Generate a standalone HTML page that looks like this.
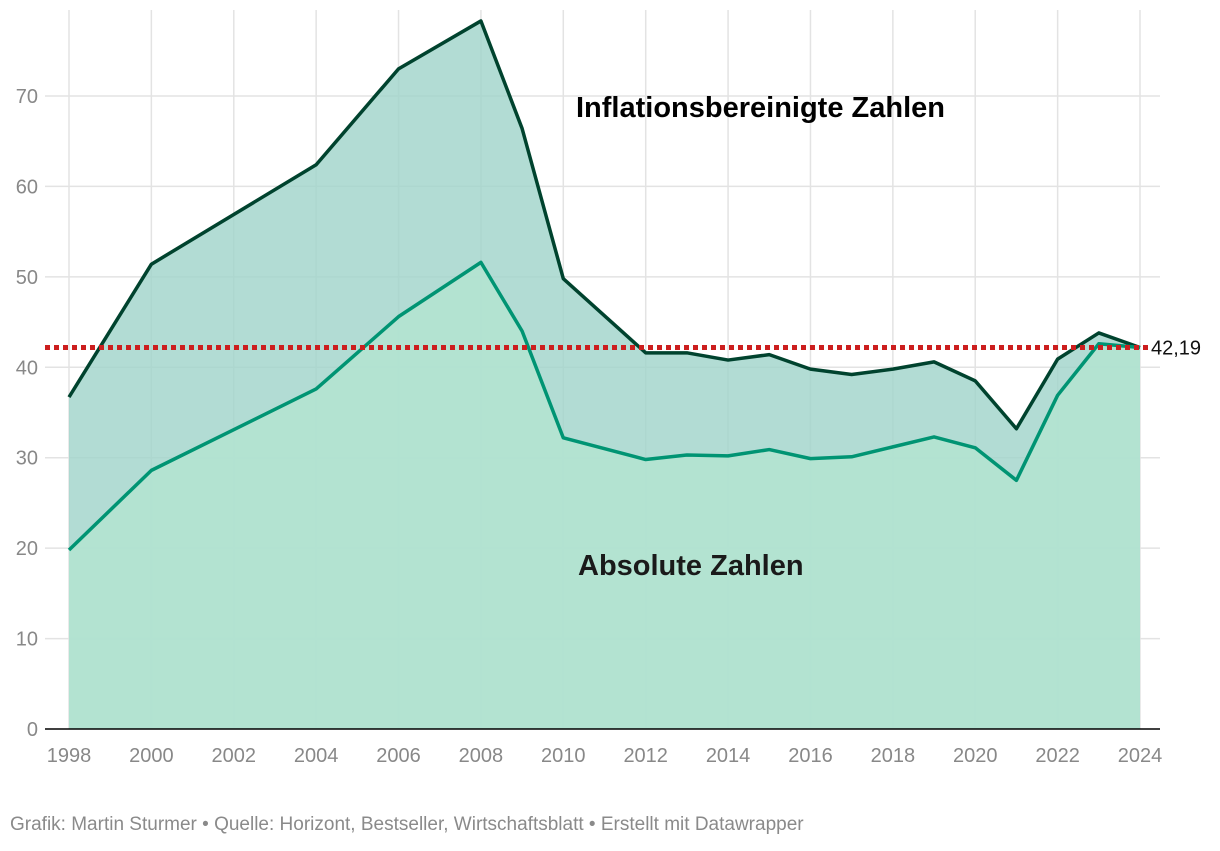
<!DOCTYPE html>
<html><head><meta charset="utf-8"><style>
body{margin:0;background:#fff;font-family:"Liberation Sans",sans-serif;}
svg text{font-family:"Liberation Sans",sans-serif;}
</style></head><body>
<svg id="chart" width="1220" height="846" xmlns="http://www.w3.org/2000/svg">
<g id="grid"></g>
<g id="areas"></g>
<g id="lines"></g>
<g id="axes"></g>
<text x="576" y="117" font-size="29" font-weight="bold" fill="#000">Inflationsbereinigte Zahlen</text>
<text x="578" y="575" font-size="29" font-weight="bold" fill="#1a1a1a">Absolute Zahlen</text>
<text x="10" y="830" font-size="19" fill="#8a8a8a">Grafik: Martin Sturmer • Quelle: Horizont, Bestseller, Wirtschaftsblatt • Erstellt mit Datawrapper</text>
</svg>
<script>
const years=[1998,2000,2004,2006,2008,2009,2010,2012,2013,2014,2015,2016,2017,2018,2019,2020,2021,2022,2023,2024];
const realValues=[36.7,51.4,62.4,73.0,78.3,66.4,49.8,41.6,41.6,40.8,41.4,39.8,39.2,39.8,40.6,38.5,33.2,40.9,43.8,42.19];
const absValues=[19.8,28.6,37.6,45.6,51.6,44.0,32.2,29.8,30.3,30.2,30.9,29.9,30.1,31.2,32.3,31.1,27.5,36.9,42.6,42.19];
const yTicks=[0,10,20,30,40,50,60,70];
const xTicks=[1998,2000,2002,2004,2006,2008,2010,2012,2014,2016,2018,2020,2022,2024];
const refValue=42.19;
const refLabel="42,19";

const NS="http://www.w3.org/2000/svg";
const X=y=>69+(y-1998)*(1140-69)/26;
const Y=v=>729-v*(729-96)/70;
function mk(tag,attrs,parent){const e=document.createElementNS(NS,tag);for(const k in attrs)e.setAttribute(k,attrs[k]);parent.appendChild(e);return e;}
const grid=document.getElementById('grid'),areas=document.getElementById('areas'),lines=document.getElementById('lines'),axes=document.getElementById('axes');
yTicks.forEach(t=>{
 if(t>0){const l=mk('line',{x1:45,x2:1160,y1:Y(t),y2:Y(t),stroke:'#e3e3e3','stroke-width':1.5},grid);
 
 }
 const tx=mk('text',{x:38,y:Y(t)+7,'font-size':20,fill:'#888','text-anchor':'end'},axes);tx.textContent=t;
 
 
});
xTicks.forEach(t=>{
 const l=mk('line',{x1:X(t),x2:X(t),y1:10,y2:729,stroke:'#e3e3e3','stroke-width':1.5},grid);
 
 
 const tx=mk('text',{x:X(t),y:762,'font-size':20,fill:'#888','text-anchor':'middle'},axes);tx.textContent=t;
 
 
});
function pts(vals){return years.map((y,i)=>X(y)+','+Y(vals[i])).join(' ');}
const base=X(years[years.length-1])+','+Y(0)+' '+X(years[0])+','+Y(0);
const a1=mk('polygon',{points:pts(realValues)+' '+base,fill:'#9fd3c9','fill-opacity':0.8},areas);


const a2=mk('polygon',{points:pts(absValues)+' '+base,fill:'#b3e3d0','fill-opacity':0.9},areas);


const ax=mk('line',{x1:45,x2:1160,y1:729,y2:729,stroke:'#000','stroke-width':1.5},axes);


const l1=mk('polyline',{points:pts(realValues),fill:'none',stroke:'#00432e','stroke-width':3.5,'stroke-linejoin':'round'},lines);


const l2=mk('polyline',{points:pts(absValues),fill:'none',stroke:'#009473','stroke-width':3.5,'stroke-linejoin':'round'},lines);


const r=mk('line',{x1:45,x2:1150,y1:Y(refValue),y2:Y(refValue),stroke:'#cc1e1e','stroke-width':5,'stroke-dasharray':'5 4'},lines);


const rt=mk('text',{x:1151,y:Y(refValue)+7,'font-size':20,fill:'#111'},lines);rt.textContent=refLabel;


</script>
</body></html>
